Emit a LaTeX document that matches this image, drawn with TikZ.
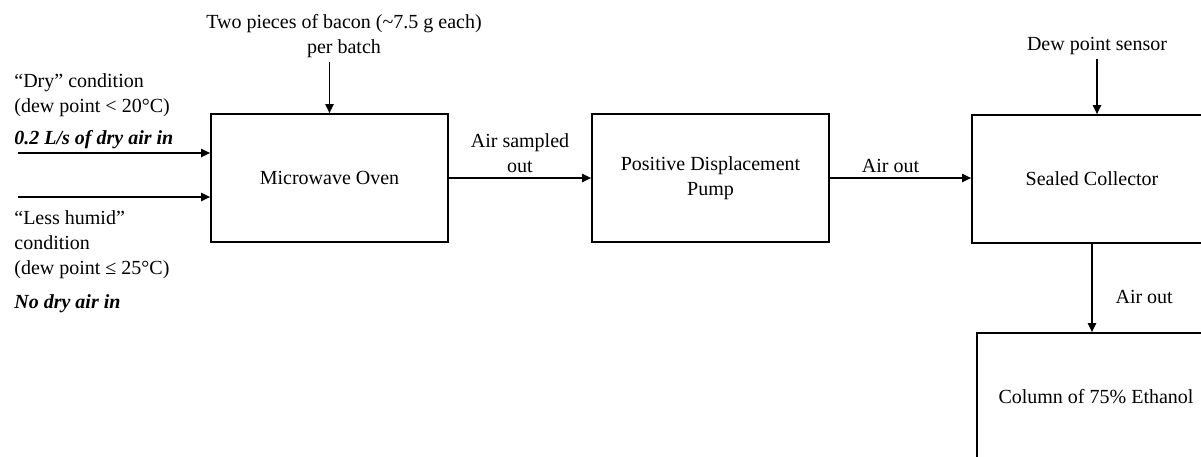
\documentclass[tikz,border=0pt]{standalone}
\usepackage{fontspec}
\setmainfont{Liberation Serif}
\usetikzlibrary{arrows.meta,positioning}
\tikzset{
    box/.style={draw, line width=0.8pt, inner sep=0pt, align=center,
                minimum width=118.5pt, minimum height=64pt},
    flow/.style={-{Triangle[length=4.5pt,width=4pt]}, line width=0.9pt},
    note/.style={align=left, anchor=west, inner sep=0pt},
    tag/.style={align=center, inner sep=2pt},
    strong/.style={note, font=\fontsize{10}{12.5}\selectfont\bfseries\itshape},
}

\begin{document}
\begin{tikzpicture}[x=0.5pt, y=-0.5pt, font=\fontsize{10}{12.5}\selectfont]
    \path[use as bounding box] (0,0) rectangle (1201,456);
    \clip (0,0) rectangle (1201,456);

    \node[box] (oven) at (329.5,178) {Microwave Oven};
    \node[box] (pump) at (710.5,178) {Positive Displacement\\Pump};
    \node[box, minimum width=120pt] (collector) at (1092,179) {Sealed Collector};
    \node[box, minimum width=119pt] (column) at (1096,397) {Column of 75\% Ethanol};

    \node[tag] (bacon) at (344,36) {Two pieces of bacon (\textasciitilde7.5 g each)\\per batch};
    \node[tag] (sensor) at (1097,46) {Dew point sensor};

    % inlet conditions
    \node[note] (dry) at (14,95) {``Dry'' condition\\(dew point < 20°C)};
    \node[strong] (dryair) at (14,140) {0.2 L/s of dry air in};
    \node[note] (humid) at (14,245) {``Less humid''\\condition\\(dew point ≤ 25°C)};
    \node[strong] (nodryair) at (14,304) {No dry air in};

    \coordinate (inone) at (18,153);
    \coordinate (intwo) at (18,197);
    \draw[flow] (inone) -- (inone -| oven.west);
    \draw[flow] (intwo) -- (intwo -| oven.west);

    \draw[flow] (bacon.south -| oven.north) -- (oven.north);
    \draw[flow] (sensor.south) -- (sensor.south |- collector.north);

    \draw[flow] (oven) -- node[above, tag] {Air sampled\\out} (pump);
    \draw[flow] (pump.east) -- node[above, tag, xshift=-5pt] {Air out} (pump.east -| collector.west);
    \draw[flow] (collector.south) -- node[right=8pt, pos=0.6] {Air out}
        (collector.south |- column.north);
\end{tikzpicture}
\end{document}
